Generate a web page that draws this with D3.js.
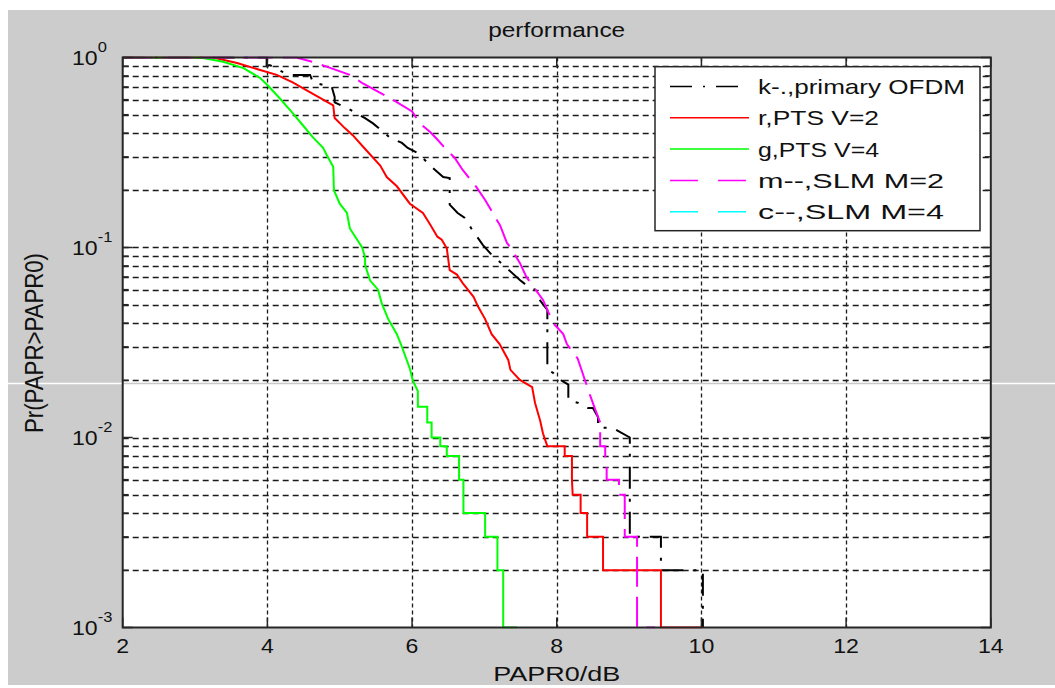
<!DOCTYPE html>
<html>
<head>
<meta charset="utf-8">
<script src="https://cdn.jsdelivr.net/npm/d3@7/dist/d3.min.js"></script>
<style>
  html, body { margin: 0; padding: 0; background: #fff; }
  svg { display: block; font-family: "Liberation Sans", Arial, sans-serif; }
</style>
</head>
<body>
<div id="chart"></div>
<script>
(function () {
  'use strict';

  // ticks
  var xTicks = [2, 4, 6, 8, 10, 12, 14];
  var yDecades = [-3, -2, -1, 0];

  var seriesNames = ['k-.,primary OFDM', 'r,PTS V=2', 'g,PTS V=4', 'm--,SLM M=2', 'c--,SLM M=4'];

  // CCDF curves: [PAPR0 dB, Pr(PAPR>PAPR0)]
  var primaryOFDM = [[2, 1], [3.99, 1], [3.99, 0.91], [4.04, 0.91], [4.21, 0.84], [4.35, 0.81], [4.59, 0.81],
    [4.63, 0.74], [4.89, 0.70], [4.93, 0.62], [4.93, 0.58], [5.11, 0.54], [5.35, 0.48], [5.46, 0.45],
    [5.69, 0.38], [5.86, 0.355], [5.94, 0.334], [6.08, 0.314], [6.27, 0.266], [6.43, 0.235], [6.52, 0.232],
    [6.52, 0.168], [6.63, 0.152], [6.73, 0.143], [6.83, 0.124], [6.98, 0.103], [7.10, 0.0915], [7.26, 0.081],
    [7.49, 0.0675], [7.63, 0.0612], [7.70, 0.060], [7.73, 0.055], [7.87, 0.047], [7.87, 0.0227], [7.95, 0.0219],
    [8.0, 0.0206], [8.16, 0.019], [8.16, 0.0157], [8.30, 0.0152], [8.43, 0.0143], [8.50, 0.0143], [8.57, 0.0128],
    [8.57, 0.0113], [8.78, 0.0112], [9.01, 0.0100], [9.01, 0.003], [9.44, 0.003], [9.44, 0.002], [10.02, 0.002],
    [10.02, 0.001]];

  var ptsV2 = [[2, 1], [3.25, 1], [3.58, 0.935], [3.9, 0.86], [4.13, 0.81], [4.35, 0.74], [4.55, 0.67],
    [4.77, 0.60], [4.91, 0.56], [4.93, 0.48], [5.07, 0.425], [5.18, 0.39], [5.32, 0.34], [5.56, 0.27],
    [5.65, 0.235], [5.79, 0.21], [5.97, 0.17], [6.15, 0.152], [6.25, 0.132], [6.35, 0.114], [6.41, 0.11],
    [6.48, 0.099], [6.52, 0.076], [6.62, 0.072], [6.70, 0.065], [6.85, 0.055], [6.91, 0.049], [7.01, 0.042],
    [7.10, 0.035], [7.21, 0.031], [7.33, 0.0256], [7.36, 0.0227], [7.49, 0.0201], [7.66, 0.0184], [7.70, 0.0152],
    [7.77, 0.0123], [7.81, 0.0105], [7.87, 0.009], [8.11, 0.009], [8.11, 0.008], [8.21, 0.008], [8.21, 0.006],
    [8.22, 0.005], [8.33, 0.005], [8.33, 0.004], [8.42, 0.004], [8.42, 0.003], [8.64, 0.003], [8.64, 0.002],
    [9.44, 0.002], [9.44, 0.001], [10.0, 0.001]];

  var ptsV4 = [[2, 1], [3.07, 1], [3.39, 0.95], [3.67, 0.88], [3.9, 0.78], [4.0, 0.716], [4.17, 0.61],
    [4.35, 0.51], [4.49, 0.44], [4.63, 0.38], [4.77, 0.335], [4.82, 0.307], [4.91, 0.266], [4.92, 0.2],
    [5.0, 0.17], [5.1, 0.152], [5.14, 0.126], [5.31, 0.1], [5.35, 0.089], [5.35, 0.081], [5.42, 0.067],
    [5.53, 0.06], [5.58, 0.051], [5.67, 0.042], [5.79, 0.035], [5.86, 0.03], [5.97, 0.023], [6.01, 0.02],
    [6.08, 0.0175], [6.08, 0.0145], [6.21, 0.0145], [6.21, 0.012], [6.27, 0.012], [6.27, 0.01], [6.39, 0.01],
    [6.39, 0.009], [6.48, 0.009], [6.48, 0.008], [6.65, 0.008], [6.65, 0.006], [6.71, 0.006], [6.71, 0.004],
    [7.01, 0.004], [7.01, 0.003], [7.18, 0.003], [7.18, 0.002], [7.26, 0.002], [7.26, 0.001], [7.45, 0.001]];

  var slmM2 = [[2, 1], [4.4, 1], [4.68, 0.935], [5.14, 0.81], [5.32, 0.73], [5.70, 0.61], [6.0, 0.52],
    [6.11, 0.45], [6.25, 0.405], [6.35, 0.37], [6.45, 0.335], [6.59, 0.296], [6.70, 0.256], [6.89, 0.208],
    [7.01, 0.178], [7.22, 0.13], [7.31, 0.106], [7.36, 0.1], [7.49, 0.083], [7.58, 0.07], [7.81, 0.053],
    [7.95, 0.04], [8.09, 0.035], [8.14, 0.031], [8.29, 0.026], [8.46, 0.0167], [8.53, 0.0141], [8.6, 0.012],
    [8.6, 0.009], [8.67, 0.009], [8.67, 0.008], [8.69, 0.0069], [8.69, 0.006], [8.86, 0.006], [8.86, 0.005],
    [8.94, 0.005], [8.94, 0.003], [9.11, 0.003], [9.11, 0.001], [9.36, 0.001]];

  // the cyan curve leaves no visible trace in the figure
  var slmM4 = [];

  var width = 1055;
  var height = 688;
  var margin = { left: 122.7, right: 990.8, top: 57.5, bottom: 627.5 };

  var x = d3.scaleLinear().domain([2, 14]).range([margin.left, margin.right]);
  var y = d3.scaleLog().domain([1e-3, 1]).range([margin.bottom, margin.top]);

  // the screenshot is a little wider than tall, so glyphs come out stretched
  var stretch = function stretch(sel, k) {
    sel.each(function () {
      var w = this.getComputedTextLength();
      d3.select(this).attr('textLength', w * k).attr('lengthAdjust', 'spacingAndGlyphs');
    });
  };

  var svg = d3.select('#chart').append('svg').attr('width', width).attr('height', height);

  // figure background
  svg.append('rect').attr('x', 8).attr('y', 10).attr('width', width - 8).attr('height', 675).attr('fill', '#cccccc');
  svg.append('rect').attr('x', margin.left).attr('y', margin.top)
    .attr('width', margin.right - margin.left).attr('height', margin.bottom - margin.top).attr('fill', '#fff');

  svg.append('defs').append('clipPath').attr('id', 'plot-clip').append('rect')
    .attr('x', margin.left).attr('y', margin.top - 1)
    .attr('width', margin.right - margin.left).attr('height', margin.bottom - margin.top + 2);

  // grid: every minor y value, major x ticks
  var yGrid = [];
  yDecades.forEach(function (e) {
    for (var m = 1; m < 10; m++) {
      var v = m * Math.pow(10, e);
      if (v > 1e-3 && v < 1) yGrid.push(v);
    }
  });

  var grid = svg.append('g').attr('stroke', '#1a1a1a').attr('stroke-width', 1.3).attr('fill', 'none');
  grid.selectAll('line.h').data(yGrid).join('line').attr('class', 'h')
    .attr('x1', margin.left).attr('x2', margin.right)
    .attr('y1', function (d) { return Math.round(y(d)) + 0.5; })
    .attr('y2', function (d) { return Math.round(y(d)) + 0.5; })
    .attr('stroke-dasharray', '6,4');
  grid.selectAll('line.v').data(xTicks.slice(1, -1)).join('line').attr('class', 'v')
    .attr('y1', margin.top).attr('y2', margin.bottom)
    .attr('x1', function (d) { return Math.round(x(d)) + 0.5; })
    .attr('x2', function (d) { return Math.round(x(d)) + 0.5; })
    .attr('stroke-dasharray', '4,3');

  // screenshot seam across the figure
  svg.append('line').attr('x1', 8).attr('x2', width).attr('y1', 383.5).attr('y2', 383.5)
    .attr('stroke', '#fff').attr('stroke-width', 1.5);
  svg.append('line').attr('x1', margin.left).attr('x2', margin.right).attr('y1', 383.5).attr('y2', 383.5)
    .attr('stroke', '#c8c8c8').attr('stroke-width', 1.5);

  // curves
  var line = d3.line().x(function (d) { return x(d[0]); }).y(function (d) { return y(d[1]); });
  var series = [
    { data: primaryOFDM, color: '#000000', dash: '22,10,3,10' },
    { data: ptsV2, color: '#ff0000', dash: null },
    { data: ptsV4, color: '#00ff00', dash: null },
    { data: slmM2, color: '#ff00ff', dash: '30,10' },
    { data: slmM4, color: '#00ffff', dash: '30,10' }
  ];
  svg.append('g').attr('clip-path', 'url(#plot-clip)').attr('fill', 'none')
    .selectAll('path').data(series.filter(function (s) { return s.data.length; })).join('path')
    .attr('d', function (s) { return line(s.data); })
    .attr('stroke', function (s) { return s.color; })
    .attr('stroke-width', 2)
    .attr('stroke-dasharray', function (s) { return s.dash; });

  // axes box and ticks
  var axisColor = '#262626';
  var ticks = svg.append('g').attr('stroke', axisColor).attr('stroke-width', 1.5);
  xTicks.forEach(function (t) {
    ticks.append('line').attr('x1', x(t)).attr('x2', x(t)).attr('y1', margin.bottom).attr('y2', margin.bottom - 10);
    ticks.append('line').attr('x1', x(t)).attr('x2', x(t)).attr('y1', margin.top).attr('y2', margin.top + 10);
  });
  yGrid.concat([1e-3, 1]).forEach(function (v) {
    var len = Math.abs(Math.log10(v) - Math.round(Math.log10(v))) < 1e-9 ? 10 : 6;
    ticks.append('line').attr('x1', margin.left).attr('x2', margin.left + len).attr('y1', y(v)).attr('y2', y(v));
    ticks.append('line').attr('x1', margin.right).attr('x2', margin.right - len).attr('y1', y(v)).attr('y2', y(v));
  });
  svg.append('rect').attr('x', margin.left).attr('y', margin.top)
    .attr('width', margin.right - margin.left).attr('height', margin.bottom - margin.top)
    .attr('fill', 'none').attr('stroke', axisColor).attr('stroke-width', 2);

  // tick labels
  var textColor = '#111';
  var xLab = svg.append('g').attr('font-size', 21).attr('fill', textColor).attr('text-anchor', 'middle')
    .selectAll('text').data(xTicks).join('text')
    .attr('x', function (d) { return x(d); }).attr('y', 653)
    .text(function (d) { return d; });
  stretch(xLab, 1.1);

  var yLab = svg.append('g').attr('fill', textColor).selectAll('text').data(yDecades).join('text')
    .attr('x', 72).attr('y', function (d) { return y(Math.pow(10, d)) + 7.5; })
    .attr('font-size', 21);
  yLab.append('tspan').text('10');
  yLab.append('tspan').attr('dy', -13.5).attr('font-size', 15).text(function (d) { return d; });
  stretch(yLab, 1.1);

  // titles
  var title = svg.append('text').attr('x', 556.7).attr('y', 37).attr('text-anchor', 'middle')
    .attr('font-size', 20).attr('fill', textColor).text('performance');
  stretch(title, 1.22);
  svg.append('text').attr('x', 556.7).attr('y', 681).attr('text-anchor', 'middle')
    .attr('font-size', 21).attr('fill', textColor).attr('textLength', 127).attr('lengthAdjust', 'spacingAndGlyphs')
    .text('PAPR0/dB');
  svg.append('text').attr('transform', 'translate(43,343) scale(1.2,1) rotate(-90)').attr('text-anchor', 'middle')
    .attr('font-size', 21).attr('fill', textColor).attr('textLength', 180).attr('lengthAdjust', 'spacingAndGlyphs')
    .text('Pr(PAPR>PAPR0)');

  // legend
  var legend = svg.append('g');
  legend.append('rect').attr('x', 655).attr('y', 66.7).attr('width', 325).attr('height', 164)
    .attr('fill', '#fff').attr('stroke', axisColor).attr('stroke-width', 1.5);
  var legendDash = ['22,11,2,11', null, null, '28,20', '28,20'];
  var legendWidths = [207, 121, 121, 186, 186];
  var row = legend.selectAll('g').data(series).join('g')
    .attr('transform', function (d, i) { return 'translate(0,' + (86.5 + i * 31.3) + ')'; });
  row.append('line').attr('x1', 670).attr('x2', 749)
    .attr('stroke', function (s) { return s.color; }).attr('stroke-width', 1.5)
    .attr('stroke-dasharray', function (s, i) { return legendDash[i]; });
  row.append('text').attr('x', 758).attr('dy', '0.36em').attr('font-size', 21).attr('fill', textColor)
    .attr('textLength', function (d, i) { return legendWidths[i]; }).attr('lengthAdjust', 'spacingAndGlyphs')
    .text(function (d, i) { return seriesNames[i]; });
})();
</script>
</body>
</html>
